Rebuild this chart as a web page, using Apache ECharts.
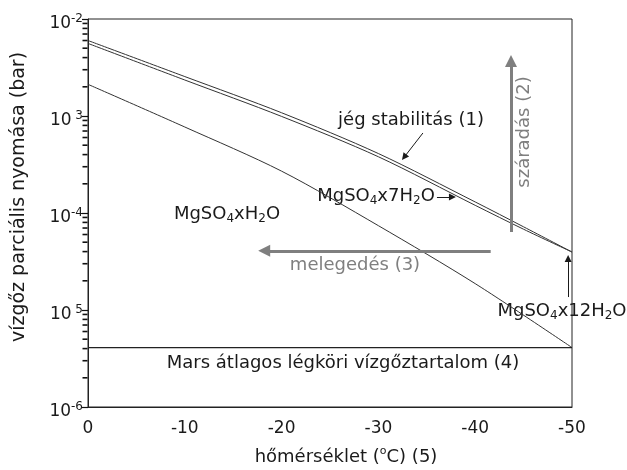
<!DOCTYPE html>
<html>
<head>
<meta charset="utf-8">
<script src="https://cdn.jsdelivr.net/npm/echarts@6/dist/echarts.min.js"></script>
<style>
  html, body { margin: 0; padding: 0; background: #fff; }
  #chart { width: 627px; height: 470px; }
</style>
</head>
<body>
<div id="chart"></div>
<script>
// temperatures (°C) and water vapour partial pressures (bar)
const temps = [0, -10, -20, -30, -40, -45, -50];
const iceValues = [6.0e-3, 2.55e-3, 1.08e-3, 4.1e-4, 1.3e-4, 7.2e-5, 3.96e-5];   // jég stabilitás (1)
const heptaValues = [5.6e-3, 2.35e-3, 0.99e-3, 3.8e-4, 1.2e-4, 6.8e-5, 3.96e-5]; // MgSO4x7H2O
const monoTemps = [0, -10, -20, -30, -40, -50];
const monoValues = [2.12e-3, 7.7e-4, 2.7e-4, 7.4e-5, 1.87e-5, 4.1e-6];           // MgSO4xH2O
const marsTemps = [0, -50];
const marsValues = [4.1e-6, 4.1e-6];                                               // Mars átlagos (4)

// y tick labels exactly as printed (10^-6 ... 10^-2)
const yTickExps = ['-6', ' 5', '-4', ' 3', '-2'];
const minorDecades = [1e-6, 1e-5, 1e-4, 1e-3];
const minorSteps = [2, 3, 4, 5, 6, 7, 8, 9];

const minorTicks = [];
minorDecades.forEach(d => minorSteps.forEach(m => minorTicks.push([0, m * d])));

const FONT = 'DejaVu Sans';
const INK = '#1a1a1a';
const GRAY = '#7f7f7f';

const subStyle = { fontSize: 12, fontFamily: FONT, fill: INK, verticalAlign: 'bottom', lineHeight: 12 };

function label(text, x, y) {
  return {
    type: 'text',
    x: x, y: y,
    silent: true,
    style: {
      text: text,
      fontSize: 18,
      fontFamily: FONT,
      fill: INK,
      lineHeight: 22,
      align: 'center',
      verticalAlign: 'middle',
      rich: { s: subStyle }
    }
  };
}

const curveStyle = { color: '#333', width: 1 };

const chart = echarts.init(document.getElementById('chart'));

const option = {
  animation: false,
  backgroundColor: '#fff',
  grid: {
    left: 88, right: 55, top: 19, bottom: 63,
    show: true, borderColor: '#222', borderWidth: 1
  },
  xAxis: {
    type: 'value',
    inverse: true,
    min: -50, max: 0, interval: 10,
    axisLine: { lineStyle: { color: '#222', width: 1 } },
    axisTick: { show: false },
    splitLine: { show: false },
    axisLabel: { color: INK, fontSize: 17, fontFamily: FONT, margin: 13 }
  },
  yAxis: {
    type: 'log',
    logBase: 10,
    min: 1e-6, max: 1e-2,
    axisLine: { show: true, lineStyle: { color: '#222', width: 1 } },
    axisTick: { show: true, inside: false, length: 6, lineStyle: { color: '#111', width: 1.2 } },
    splitLine: { show: false },
    axisLabel: {
      color: INK, fontSize: 17, fontFamily: FONT, margin: 5,
      lineHeight: 22, padding: [9, 0, 0, 0],
      formatter: function (v) {
        const i = Math.round(Math.log10(v)) + 6;
        return '10{sup|' + yTickExps[i] + '}';
      },
      rich: {
        sup: { fontSize: 12, fontFamily: FONT, color: INK, verticalAlign: 'top', lineHeight: 10 }
      }
    }
  },
  series: [
    {
      name: 'jég stabilitás (1)',
      type: 'line',
      data: temps.map((t, i) => [t, iceValues[i]]),
      showSymbol: false,
      smooth: 0.3,
      lineStyle: curveStyle,
      silent: true
    },
    {
      name: 'MgSO4x7H2O',
      type: 'line',
      data: temps.map((t, i) => [t, heptaValues[i]]),
      showSymbol: false,
      smooth: 0.3,
      lineStyle: curveStyle,
      silent: true
    },
    {
      name: 'MgSO4xH2O',
      type: 'line',
      data: monoTemps.map((t, i) => [t, monoValues[i]]),
      showSymbol: false,
      smooth: 0.3,
      lineStyle: curveStyle,
      silent: true
    },
    {
      name: 'Mars átlagos légköri vízgőztartalom (4)',
      type: 'line',
      data: marsTemps.map((t, i) => [t, marsValues[i]]),
      showSymbol: false,
      lineStyle: { color: '#222', width: 1.3 },
      silent: true
    },
    {
      // gray process arrows: száradás (2), melegedés (3)
      type: 'line',
      data: [],
      silent: true,
      markLine: {
        silent: true,
        animation: false,
        symbol: ['none', 'triangle'],
        symbolSize: 12,
        label: { show: false },
        lineStyle: { color: GRAY, width: 3, type: 'solid' },
        data: [
          [{ coord: [-41.6, 4.08e-5] }, { coord: [-18.2, 4.08e-5] }],
          [{ coord: [-43.7, 6.37e-5] }, { coord: [-43.7, 3.69e-3] }]
        ]
      }
    },
    {
      // small black pointer arrows
      type: 'line',
      data: [],
      silent: true,
      markLine: {
        silent: true,
        animation: false,
        symbol: ['none', 'triangle'],
        symbolSize: 7,
        label: { show: false },
        lineStyle: { color: INK, width: 1, type: 'solid' },
        data: [
          [{ coord: [-34.6, 6.68e-4] }, { coord: [-32.66, 3.76e-4] }],
          [{ coord: [-36.05, 1.46e-4] }, { coord: [-37.65, 1.46e-4] }],
          [{ coord: [-49.6, 1.36e-5] }, { coord: [-49.6, 3.4e-5] }]
        ]
      }
    },
    {
      // log-spaced minor ticks on the y axis
      type: 'scatter',
      clip: false,
      silent: true,
      data: minorTicks,
      symbol: 'rect',
      symbolSize: [5, 1.6],
      symbolOffset: [-3, 0],
      itemStyle: { color: '#111', opacity: 1 },
      z: 10
    }
  ],
  graphic: [
    label('jég stabilitás (1)', 411, 120),
    label('MgSO{s|4}x7H{s|2}O', 376, 196),
    label('MgSO{s|4}xH{s|2}O', 227, 214),
    label('MgSO{s|4}x12H{s|2}O', 562, 311),
    label('Mars átlagos légköri vízgőztartalom (4)', 343, 363),
    {
      type: 'text', x: 355, y: 265, silent: true,
      style: { text: 'melegedés (3)', fontSize: 18, fontFamily: FONT, fill: GRAY, align: 'center', verticalAlign: 'middle' }
    },
    {
      type: 'text', x: 524, y: 132, rotation: Math.PI / 2, silent: true,
      style: { text: 'száradás (2)', fontSize: 18, fontFamily: FONT, fill: GRAY, align: 'center', verticalAlign: 'middle' }
    },
    {
      type: 'text', x: 19, y: 197, rotation: Math.PI / 2, silent: true,
      style: {
        text: 'vízgőz parciális nyomása (bar)',
        fontSize: 19, fontFamily: FONT, fill: INK, align: 'center', verticalAlign: 'middle'
      }
    },
    {
      type: 'text', x: 346, y: 457, silent: true,
      style: {
        text: 'hőmérséklet ({o|o}C) (5)',
        fontSize: 18, fontFamily: FONT, fill: INK, align: 'center', verticalAlign: 'middle', lineHeight: 22,
        rich: { o: { fontSize: 11, fontFamily: FONT, fill: INK, verticalAlign: 'top', lineHeight: 11 } }
      }
    }
  ]
};

chart.setOption(option);
</script>
</body>
</html>
